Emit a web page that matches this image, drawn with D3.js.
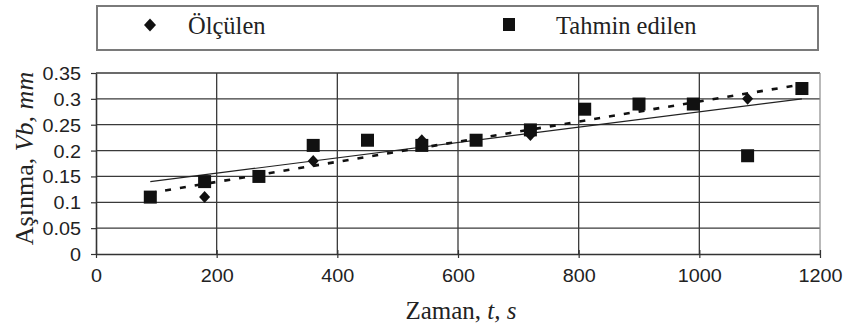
<!DOCTYPE html>
<html>
<head>
<meta charset="utf-8">
<script src="https://cdn.jsdelivr.net/npm/d3@7"></script>
<style>
  html, body { margin: 0; padding: 0; background: #fff; }
  svg { display: block; }
</style>
</head>
<body>
<svg id="chart" width="844" height="327"></svg>
<script>
// Measured wear (Ölçülen)
const measuredTime = [180, 360, 540, 720, 1080];
const measuredWear = [0.11, 0.18, 0.22, 0.23, 0.30];

// Predicted wear (Tahmin edilen)
const predictedTime = [90, 180, 270, 360, 450, 540, 630, 720, 810, 900, 990, 1080, 1170];
const predictedWear = [0.11, 0.14, 0.15, 0.21, 0.22, 0.21, 0.22, 0.24, 0.28, 0.29, 0.29, 0.19, 0.32];

// Trend lines (start / end)
const measuredTrendTime = [90, 1170];
const measuredTrendWear = [0.14, 0.30];
const predictedTrendTime = [90, 1170];
const predictedTrendWear = [0.118, 0.328];

const xTicks = [0, 200, 400, 600, 800, 1000, 1200];
const yTicks = [0, 0.05, 0.1, 0.15, 0.2, 0.25, 0.3, 0.35];

const legendLabels = ["Ölçülen", "Tahmin edilen"];

const svg = d3.select("#chart");
const plotLeft = 96, plotRight = 820, plotTop = 73, plotBottom = 254;

const x = d3.scaleLinear().domain([0, 1200]).range([plotLeft, plotRight]);
const y = d3.scaleLinear().domain([0, 0.35]).range([plotBottom, plotTop]);

const gridColor = "#3a3a3a";

// horizontal grid
svg.append("g").selectAll("line").data(yTicks.filter(d => d > 0)).join("line")
  .attr("x1", plotLeft).attr("x2", plotRight)
  .attr("y1", d => y(d)).attr("y2", d => y(d))
  .attr("stroke", gridColor).attr("stroke-width", 1.3);

// vertical grid
svg.append("g").selectAll("line").data(xTicks.filter(d => d > 0 && d < 1200)).join("line")
  .attr("x1", d => x(d)).attr("x2", d => x(d))
  .attr("y1", plotTop).attr("y2", plotBottom)
  .attr("stroke", gridColor).attr("stroke-width", 1.3);

// right border
svg.append("line")
  .attr("x1", plotRight).attr("x2", plotRight).attr("y1", plotTop).attr("y2", plotBottom)
  .attr("stroke", "#8a8a8a").attr("stroke-width", 1.2);

// axes
const fmtY = d => d === 0 ? "0" : String(+d.toFixed(2));
const yAxis = d3.axisLeft(y).tickValues(yTicks).tickSize(5).tickSizeOuter(0).tickFormat(fmtY);
const xAxis = d3.axisBottom(x).tickValues(xTicks).tickSize(0).tickSizeOuter(0).tickFormat(d3.format("d"));

const gy = svg.append("g").attr("transform", `translate(${plotLeft},0)`).call(yAxis);
const gx = svg.append("g").attr("transform", `translate(0,${plotBottom})`).call(xAxis);

[gx, gy].forEach(g => {
  g.select(".domain").attr("stroke", "#333").attr("stroke-width", 1.6);
  g.selectAll(".tick line").attr("stroke", "#333").attr("stroke-width", 1.2);
  g.selectAll(".tick text")
    .attr("fill", "#222")
    .style("font-family", "'Liberation Sans', Arial, sans-serif")
    .style("font-size", "18px");
});
// slightly wide tick numerals
gy.selectAll(".tick text")
  .attr("x", null).attr("dy", null)
  .attr("transform", "translate(-15,6.5) scale(1.1,1)");
gx.selectAll(".tick text")
  .attr("y", null).attr("dy", null)
  .attr("transform", "translate(0,28) scale(1.1,1)");
// x ticks crossing the axis line
gx.selectAll(".tick line").attr("y1", -4).attr("y2", 4);

// trend lines
const line = d3.line().x(d => x(d[0])).y(d => y(d[1]));
svg.append("path")
  .datum(measuredTrendTime.map((t, i) => [t, measuredTrendWear[i]]))
  .attr("d", line).attr("fill", "none")
  .attr("stroke", "#222").attr("stroke-width", 1.1);
svg.append("path")
  .datum(predictedTrendTime.map((t, i) => [t, predictedTrendWear[i]]))
  .attr("d", line).attr("fill", "none")
  .attr("stroke", "#111").attr("stroke-width", 2.6)
  .attr("stroke-dasharray", "6,9");

// markers
const sq = 13;
svg.append("g").selectAll("rect").data(predictedTime.map((t, i) => [t, predictedWear[i]])).join("rect")
  .attr("x", d => x(d[0]) - sq / 2).attr("y", d => y(d[1]) - sq / 2)
  .attr("width", sq).attr("height", sq).attr("fill", "#111");

const diamond = (cx, cy, w, h) => `M${cx},${cy - h / 2}L${cx + w / 2},${cy}L${cx},${cy + h / 2}L${cx - w / 2},${cy}Z`;
svg.append("g").selectAll("path").data(measuredTime.map((t, i) => [t, measuredWear[i]])).join("path")
  .attr("d", d => diamond(x(d[0]), y(d[1]), 11, 12)).attr("fill", "#111");

// axis titles
const yTitle = svg.append("text")
  .attr("transform", `translate(33,${(plotTop + plotBottom) / 2 - 5}) rotate(-90)`)
  .attr("text-anchor", "middle")
  .style("font-family", "'Liberation Serif', 'Times New Roman', serif")
  .style("font-size", "26px").attr("fill", "#222");
yTitle.append("tspan").text("Aşınma, ");
yTitle.append("tspan").style("font-style", "italic").text("Vb, mm");

const xTitle = svg.append("text")
  .attr("x", 461).attr("y", 319)
  .attr("text-anchor", "middle")
  .style("font-family", "'Liberation Serif', 'Times New Roman', serif")
  .style("font-size", "25px").attr("fill", "#222");
xTitle.append("tspan").text("Zaman, ");
xTitle.append("tspan").style("font-style", "italic").text("t, s");

// legend
const lg = svg.append("g");
lg.append("rect").attr("x", 97).attr("y", 6).attr("width", 721).attr("height", 44)
  .attr("fill", "none").attr("stroke", "#7a7a7a").attr("stroke-width", 2);
lg.append("path").attr("d", diamond(150, 25, 12, 13)).attr("fill", "#111");
lg.append("rect").attr("x", 503).attr("y", 18).attr("width", 12).attr("height", 13).attr("fill", "#111");
lg.selectAll("text").data(legendLabels).join("text")
  .attr("x", (d, i) => i === 0 ? 188 : 556).attr("y", 33.5)
  .style("font-family", "'Liberation Serif', 'Times New Roman', serif")
  .style("font-size", "24.5px").attr("fill", "#222")
  .text(d => d);
</script>
</body>
</html>
